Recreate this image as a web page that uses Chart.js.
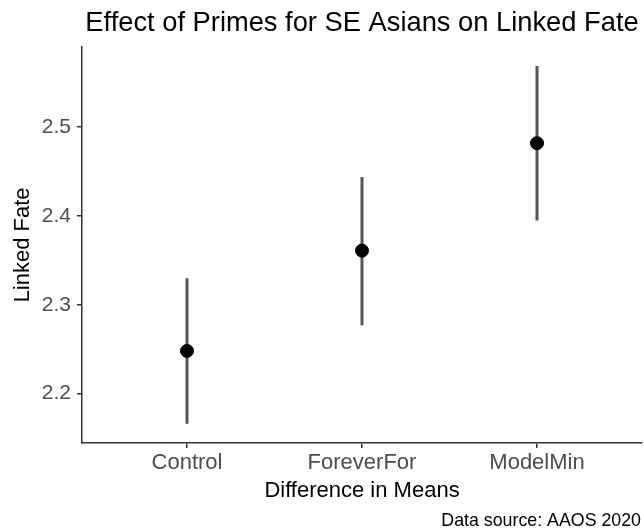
<!DOCTYPE html>
<html>
<head>
<meta charset="utf-8">
<script src="https://cdn.jsdelivr.net/npm/chart.js@4"></script>
<style>
    html, body { margin: 0; padding: 0; background: #fff; overflow: hidden; }
    #wrap { width: 644px; height: 531px; }
</style>
</head>
<body>
<div id="wrap"><canvas id="effectChart"></canvas></div>
<script>
// Values
const categories = ['Control', 'ForeverFor', 'ModelMin'];
const means = [2.248, 2.361, 2.482];
const lowerCI = [2.166, 2.277, 2.395];
const upperCI = [2.330, 2.444, 2.569];
const yTicks = [2.2, 2.3, 2.4, 2.5];

const fontFamily = "'Liberation Sans', Arial, Helvetica, sans-serif";

// caption drawn in the bottom-right corner, like ggplot's labs(caption=)
const captionText = 'Data source: AAOS 2020';
const captionPlugin = {
    id: 'caption',
    afterDraw(chart) {
        const c = chart.ctx;
        c.save();
        c.font = `17.8px ${fontFamily}`;
        c.fillStyle = '#000';
        c.textAlign = 'right';
        c.textBaseline = 'alphabetic';
        c.fillText(captionText, chart.width - 3, 526);
        c.restore();
    }
};

document.addEventListener('DOMContentLoaded', () => {
    const ctx = document.getElementById('effectChart').getContext('2d');

    // vertical ranges, separated by null so each category gets its own segment
    const rangeData = [];
    categories.forEach((c, i) => {
        rangeData.push({ x: i + 1, y: lowerCI[i] });
        rangeData.push({ x: i + 1, y: upperCI[i] });
        rangeData.push({ x: i + 1, y: null });
    });

    new Chart(ctx, {
        type: 'scatter',
        data: {
            datasets: [{
                label: 'Mean',
                data: means.map((m, i) => ({ x: i + 1, y: m })),
                backgroundColor: '#000',
                borderColor: '#000',
                pointRadius: 6.5,
                order: 0
            }, {
                type: 'line',
                label: 'Range',
                data: rangeData,
                borderColor: '#555',
                borderWidth: 3,
                pointRadius: 0,
                spanGaps: false,
                fill: false,
                order: 1
            }]
        },
        options: {
            responsive: true,
            maintainAspectRatio: false,
            animation: false,
            layout: { autoPadding: false, padding: { left: 0, right: 2, top: 0, bottom: 22 } },
            plugins: {
                legend: { display: false },
                tooltip: { enabled: false },
                title: {
                    display: true,
                    text: 'Effect of Primes for SE Asians on Linked Fate',
                    fullSize: false,
                    color: '#000',
                    font: { family: fontFamily, size: 27.3, weight: 'normal' },
                    padding: { top: 7, bottom: 7 }
                }
            },
            scales: {
                x: {
                    type: 'linear',
                    min: 0.4,
                    max: 3.6,
                    afterBuildTicks: axis => {
                        axis.ticks = categories.map((c, i) => ({ value: i + 1 }));
                    },
                    afterFit: scale => {
                        scale.height = 66;
                        scale.paddingLeft = 0;
                        scale.paddingRight = 0;
                    },
                    ticks: {
                        color: '#4d4d4d',
                        font: { family: fontFamily, size: 22 },
                        padding: 2,
                        maxRotation: 0,
                        callback: v => categories[v - 1]
                    },
                    grid: {
                        drawOnChartArea: false,
                        drawTicks: true,
                        tickLength: 5,
                        color: '#333',
                        lineWidth: 1.5
                    },
                    border: { display: true, color: '#333', width: 1.5 },
                    title: {
                        display: true,
                        text: 'Difference in Means',
                        color: '#000',
                        font: { family: fontFamily, size: 22 },
                        padding: { top: 0, bottom: 5 }
                    }
                },
                y: {
                    min: 2.1443,
                    max: 2.5906,
                    afterBuildTicks: axis => {
                        axis.ticks = yTicks.map(v => ({ value: v }));
                    },
                    afterFit: scale => { scale.width = 82; },
                    ticks: {
                        color: '#4d4d4d',
                        font: { family: fontFamily, size: 21 },
                        padding: 6,
                        callback: v => v.toFixed(1)
                    },
                    grid: {
                        drawOnChartArea: false,
                        drawTicks: true,
                        tickLength: 5,
                        color: '#333',
                        lineWidth: 1.5
                    },
                    border: { display: true, color: '#333', width: 1.5 },
                    title: {
                        display: true,
                        text: 'Linked Fate',
                        color: '#000',
                        font: { family: fontFamily, size: 22 },
                        padding: { top: 10, bottom: 0 }
                    }
                }
            }
        },
        plugins: [captionPlugin]
    });
});
</script>
</body>
</html>
